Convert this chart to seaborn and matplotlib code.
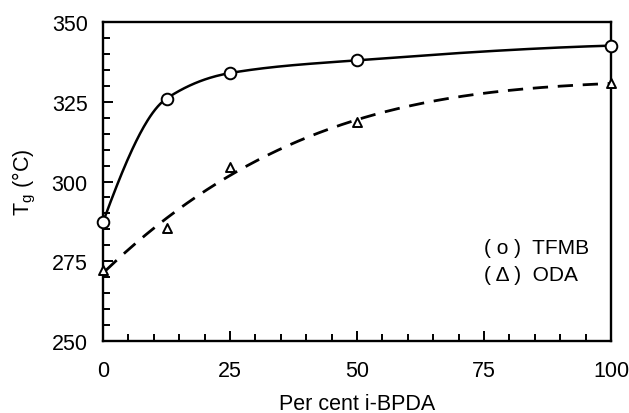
import numpy as np
import pandas as pd
import matplotlib
matplotlib.use("Agg")
import matplotlib.pyplot as plt
from matplotlib.ticker import MultipleLocator
import seaborn as sns

# Glass transition temperature vs. i-BPDA content
pct_tfmb = [0, 12.5, 25, 50, 100]
tg_tfmb = [287.3, 326.0, 334.0, 338.0, 342.6]
pct_oda = [0, 12.5, 25, 50, 100]
tg_oda = [272.3, 285.4, 304.6, 318.7, 330.8]

x_ticks = [0, 25, 50, 75, 100]
y_ticks = [250, 275, 300, 325, 350]


def pchip(x, y, xs):
    """Monotone cubic (PCHIP) interpolation."""
    x = np.asarray(x, float)
    y = np.asarray(y, float)
    h = np.diff(x)
    d = np.diff(y) / h
    n = len(x)
    m = np.zeros(n)
    for k in range(1, n - 1):
        if d[k - 1] * d[k] > 0:
            w1 = 2 * h[k] + h[k - 1]
            w2 = h[k] + 2 * h[k - 1]
            m[k] = (w1 + w2) / (w1 / d[k - 1] + w2 / d[k])
    m[0] = ((2 * h[0] + h[1]) * d[0] - h[0] * d[1]) / (h[0] + h[1])
    if np.sign(m[0]) != np.sign(d[0]):
        m[0] = 0
    elif np.sign(d[0]) != np.sign(d[1]) and abs(m[0]) > abs(3 * d[0]):
        m[0] = 3 * d[0]
    m[-1] = ((2 * h[-1] + h[-2]) * d[-1] - h[-1] * d[-2]) / (h[-1] + h[-2])
    if np.sign(m[-1]) != np.sign(d[-1]):
        m[-1] = 0
    out = np.empty_like(xs, dtype=float)
    for i, xv in enumerate(xs):
        k = min(np.searchsorted(x, xv, side="right") - 1, n - 2)
        k = max(k, 0)
        t = (xv - x[k]) / h[k]
        h00 = 2 * t**3 - 3 * t**2 + 1
        h10 = t**3 - 2 * t**2 + t
        h01 = -2 * t**3 + 3 * t**2
        h11 = t**3 - t**2
        out[i] = h00 * y[k] + h10 * h[k] * m[k] + h01 * y[k + 1] + h11 * h[k] * m[k + 1]
    return out


xs_tfmb = np.linspace(0, 100, 400)
xs_oda = np.linspace(0.5, 100, 400)
# ODA trend: least-squares cubic polynomial through the measured points
oda_fit = np.polyval(np.polyfit(pct_oda, tg_oda, 3), xs_oda)
curve_tfmb = pd.DataFrame({"x": xs_tfmb, "y": pchip(pct_tfmb, tg_tfmb, xs_tfmb)})
curve_oda = pd.DataFrame({"x": xs_oda, "y": oda_fit})
pts_tfmb = pd.DataFrame({"x": pct_tfmb, "y": tg_tfmb})
pts_oda = pd.DataFrame({"x": pct_oda, "y": tg_oda})

sns.set_theme(style="white")
plt.rcParams["font.family"] = ["Liberation Sans", "DejaVu Sans"]
plt.rcParams["mathtext.fontset"] = "custom"
plt.rcParams["mathtext.rm"] = "Liberation Sans"
plt.rcParams["mathtext.it"] = "Liberation Sans"

fig = plt.figure(figsize=(6.29, 4.14), dpi=100)
ax = fig.add_axes([0.1638, 0.1739, 0.8076, 0.7705])

sns.lineplot(data=curve_tfmb, x="x", y="y", ax=ax, color="black", lw=1.8,
             estimator=None, sort=False, zorder=2)
sns.lineplot(data=curve_oda, x="x", y="y", ax=ax, color="black", lw=2.0,
             estimator=None, sort=False, zorder=2)
ax.lines[-1].set_linestyle((0, (5.5, 3.5)))

sns.scatterplot(data=pts_tfmb, x="x", y="y", ax=ax, marker="o", s=70,
                facecolor="white", edgecolor="black", linewidth=1.4,
                zorder=5, clip_on=False)
sns.scatterplot(data=pts_oda, x="x", y="y", ax=ax, marker="^", s=42,
                facecolor="white", edgecolor="black", linewidth=1.4,
                zorder=5, clip_on=False)

ax.set_xlim(0, 100)
ax.set_ylim(250, 350)
ax.set_xticks(x_ticks)
ax.set_yticks(y_ticks)
ax.xaxis.set_minor_locator(MultipleLocator(5))
ax.yaxis.set_minor_locator(MultipleLocator(5))
ax.tick_params(which="both", direction="in", bottom=True, left=True,
               top=False, right=False, color="black", width=1.4)
ax.tick_params(which="major", length=7.5)
ax.tick_params(which="minor", length=5)
ax.tick_params(axis="x", which="major", pad=14, labelsize=15.5, labelcolor="black")
ax.tick_params(axis="y", which="major", pad=11, labelsize=15.5, labelcolor="black")

for sp in ax.spines.values():
    sp.set_visible(True)
    sp.set_color("black")
    sp.set_linewidth(1.7)

ax.set_xlabel("Per cent i-BPDA", fontsize=15.5, color="black", labelpad=8)
ax.set_ylabel(r"$\mathregular{T_g}$ (°C)", fontsize=15.5, color="black", labelpad=10)

ax.text(75, 279.3, "( o )  TFMB", fontsize=15, ha="left", va="center", color="black")
ax.text(75, 271.0, "( Δ )  ODA", fontsize=15, ha="left", va="center", color="black")

fig.savefig("out.png", dpi=100)
